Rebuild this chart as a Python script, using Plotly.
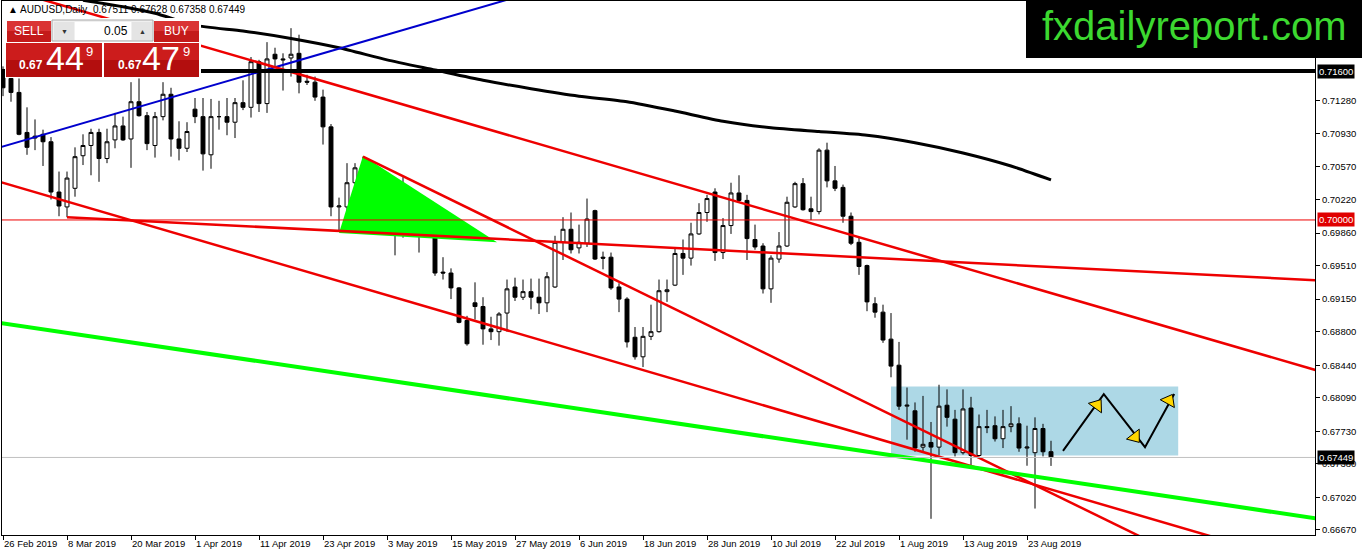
import pandas as pd
import plotly.graph_objects as go

# AUDUSD daily bars, 26 Feb 2019 .. 28 Aug 2019 (weekday bars, as MT4 shows them)
dates = pd.bdate_range('2019-02-26', '2019-08-28')

opens = [
    0.7159, 0.7152, 0.7137, 0.7094, 0.7090, 0.7092, 0.7084, 0.7030, 0.7014, 0.7034,
    0.7069, 0.7080, 0.7094, 0.7066, 0.7086, 0.7101, 0.7087, 0.7127, 0.7112, 0.7080,
    0.7111, 0.7135, 0.7087, 0.7077, 0.7119, 0.7111, 0.7070, 0.7111, 0.7111, 0.7105,
    0.7126, 0.7121, 0.7170, 0.7125, 0.7178, 0.7173, 0.7174, 0.7179, 0.7149, 0.7148,
    0.7132, 0.7100, 0.7014, 0.7014, 0.7040, 0.7056, 0.7048, 0.7014, 0.7000, 0.7003,
    0.6990, 0.7012, 0.6987, 0.6987, 0.6994, 0.6944, 0.6943, 0.6927, 0.6892, 0.6911,
    0.6907, 0.6883, 0.6880, 0.6900, 0.6928, 0.6917, 0.6923, 0.6917, 0.6911, 0.6928,
    0.6976, 0.6990, 0.6970, 0.6975, 0.7010, 0.6960, 0.6960, 0.6928, 0.6915, 0.6874,
    0.6853, 0.6875, 0.6880, 0.6923, 0.6930, 0.6964, 0.6959, 0.6985, 0.7008, 0.7030,
    0.6965, 0.6994, 0.7029, 0.7021, 0.6979, 0.6972, 0.6926, 0.6958, 0.6972, 0.7014,
    0.7039, 0.7012, 0.7009, 0.7075, 0.7042, 0.7035, 0.7004, 0.6976, 0.6951, 0.6910,
    0.6901, 0.6872, 0.6844, 0.6800, 0.6795, 0.6756, 0.6761, 0.6756, 0.6801, 0.6786,
    0.6750, 0.6798, 0.6747, 0.6778, 0.6779, 0.6765, 0.6778, 0.6781, 0.6755, 0.6750,
    0.6776, 0.67511,
]
highs = [
    0.7165, 0.7157, 0.7152, 0.7121, 0.7108, 0.7097, 0.7089, 0.7052, 0.7052, 0.7078,
    0.7092, 0.7098, 0.7098, 0.7098, 0.7115, 0.7111, 0.7148, 0.7152, 0.7116, 0.7116,
    0.7148, 0.7142, 0.7106, 0.7105, 0.7131, 0.7131, 0.7130, 0.7128, 0.7131, 0.7131,
    0.7150, 0.7175, 0.7172, 0.7191, 0.7185, 0.7179, 0.7206, 0.7199, 0.7156, 0.7154,
    0.7140, 0.7103, 0.7024, 0.7061, 0.7061, 0.7068, 0.7056, 0.7029, 0.7025, 0.7009,
    0.7046, 0.7027, 0.6998, 0.7019, 0.7003, 0.6960, 0.6948, 0.6928, 0.6897, 0.6933,
    0.6917, 0.6896, 0.6901, 0.6936, 0.6938, 0.6936, 0.6937, 0.6937, 0.6944, 0.6983,
    0.7003, 0.7008, 0.6995, 0.7023, 0.7011, 0.6966, 0.6965, 0.6932, 0.6917, 0.6885,
    0.6885, 0.6909, 0.6936, 0.6936, 0.6970, 0.6979, 0.6997, 0.7018, 0.7027, 0.7034,
    0.7002, 0.7040, 0.7048, 0.7027, 0.6995, 0.6975, 0.6962, 0.6987, 0.7025, 0.7041,
    0.7045, 0.7025, 0.7077, 0.7083, 0.7058, 0.7038, 0.7008, 0.6981, 0.6952, 0.6917,
    0.6909, 0.6900, 0.6869, 0.6820, 0.6804, 0.6811, 0.6783, 0.6823, 0.6818, 0.6796,
    0.6818, 0.6810, 0.6791, 0.6796, 0.6789, 0.6796, 0.6800, 0.6788, 0.6779, 0.6788,
    0.6781, 0.67628,
]
lows = [
    0.7133, 0.7127, 0.7091, 0.7070, 0.7075, 0.7058, 0.7022, 0.7004, 0.7003, 0.7025,
    0.7059, 0.7048, 0.7041, 0.7061, 0.7077, 0.7085, 0.7056, 0.7111, 0.7075, 0.7067,
    0.7107, 0.7068, 0.7064, 0.7073, 0.7104, 0.7053, 0.7055, 0.7097, 0.7091, 0.7088,
    0.7118, 0.7110, 0.7116, 0.7115, 0.7164, 0.7139, 0.7154, 0.7136, 0.7145, 0.7128,
    0.7081, 0.7004, 0.6989, 0.7008, 0.7038, 0.7030, 0.7008, 0.6996, 0.6995, 0.6962,
    0.6981, 0.6986, 0.6965, 0.6986, 0.6940, 0.6936, 0.6915, 0.6889, 0.6865, 0.6893,
    0.6866, 0.6871, 0.6865, 0.6880, 0.6913, 0.6914, 0.6904, 0.6899, 0.6901, 0.6927,
    0.6957, 0.6964, 0.6964, 0.6971, 0.6957, 0.6947, 0.6925, 0.6901, 0.6863, 0.6850,
    0.6842, 0.6871, 0.6879, 0.6912, 0.6929, 0.6941, 0.6951, 0.6984, 0.6998, 0.6956,
    0.6958, 0.6985, 0.7019, 0.6957, 0.6968, 0.6921, 0.6911, 0.6954, 0.6971, 0.7013,
    0.7010, 0.7000, 0.7006, 0.7035, 0.7031, 0.6997, 0.6973, 0.6941, 0.6902, 0.6895,
    0.6868, 0.6831, 0.6796, 0.6764, 0.6751, 0.6750, 0.6679, 0.6747, 0.6778, 0.6746,
    0.6748, 0.6736, 0.6746, 0.6771, 0.6762, 0.6755, 0.6772, 0.6751, 0.6736, 0.6690,
    0.6746, 0.67358,
]
closes = [
    0.7142, 0.7137, 0.7092, 0.7078, 0.7088, 0.7084, 0.7030, 0.7015, 0.7045, 0.7068,
    0.7080, 0.7094, 0.7066, 0.7084, 0.7101, 0.7086, 0.7127, 0.7112, 0.7082, 0.7111,
    0.7135, 0.7087, 0.7077, 0.7095, 0.7111, 0.7071, 0.7111, 0.7111, 0.7105, 0.7126,
    0.7121, 0.7170, 0.7125, 0.7173, 0.7173, 0.7172, 0.7178, 0.7148, 0.7148, 0.7132,
    0.7100, 0.7014, 0.7015, 0.7040, 0.7056, 0.7047, 0.7014, 0.7000, 0.7024, 0.6989,
    0.7012, 0.6998, 0.6988, 0.7000, 0.6943, 0.6943, 0.6927, 0.6890, 0.6867, 0.6907,
    0.6883, 0.6880, 0.6899, 0.6926, 0.6917, 0.6923, 0.6917, 0.6911, 0.6939, 0.6976,
    0.6990, 0.6968, 0.6976, 0.7001, 0.6958, 0.6959, 0.6927, 0.6915, 0.6869, 0.6853,
    0.6875, 0.6880, 0.6924, 0.6925, 0.6964, 0.6959, 0.6985, 0.7008, 0.7023, 0.6965,
    0.6994, 0.7029, 0.7021, 0.6980, 0.6971, 0.6926, 0.6959, 0.6972, 0.7019, 0.7039,
    0.7011, 0.7009, 0.7075, 0.7042, 0.7034, 0.7004, 0.6975, 0.6950, 0.6912, 0.6901,
    0.6871, 0.6843, 0.6800, 0.6801, 0.6755, 0.6759, 0.6756, 0.6800, 0.6788, 0.6750,
    0.6797, 0.6747, 0.6778, 0.6777, 0.6765, 0.6778, 0.6781, 0.6755, 0.6756, 0.6776,
    0.6751, 0.67449,
]

# moving average (black curve), read at some bars
ma_bar = [10, 15, 19, 24, 30, 36, 42, 48, 54, 60, 66, 72, 78, 84, 90, 96, 102, 108, 114, 120, 126, 131]
ma_val = [0.7236, 0.7229, 0.7222, 0.7209, 0.7203, 0.7195, 0.7185, 0.7172, 0.7161, 0.7150, 0.7141,
          0.7133, 0.7127, 0.7117, 0.7106, 0.7099, 0.7095, 0.7091, 0.7083, 0.7072, 0.7058, 0.7043]

# price axis labels
price_ticks = [0.71280, 0.70930, 0.70570, 0.70220, 0.69860, 0.69510, 0.69150,
               0.68800, 0.68440, 0.68090, 0.67730, 0.67380, 0.67020, 0.66670]
date_labels = ['26 Feb 2019', '8 Mar 2019', '20 Mar 2019', '1 Apr 2019', '11 Apr 2019',
               '23 Apr 2019', '3 May 2019', '15 May 2019', '27 May 2019', '6 Jun 2019',
               '18 Jun 2019', '28 Jun 2019', '10 Jul 2019', '22 Jul 2019', '1 Aug 2019',
               '13 Aug 2019', '23 Aug 2019']

resistance = 0.71600
round_level = 0.70000
bid = 0.67449

# drawn objects, anchored as (bar, price)
blue_line = [(0, 0.7079), (60, 0.7229)]
red_upper = [(30, 0.7174), (130, 0.6924)]
red_lower = [(0, 0.7040), (130, 0.6713)]
red_steep = [(45, 0.7068), (130, 0.6711)]
red_flat = [(8, 0.7003), (130, 0.6950)]
green_line = [(0, 0.6889), (130, 0.6723)]

tri_bar = [42, 45, 61.75]
tri_px = [0.6986, 0.7069, 0.6976]

box_bar = [111, 146.9]
box_px = [0.6747, 0.6821]

path_bar = [132.5, 137.6, 142.75, 146.4]
path_px = [0.6752, 0.6813, 0.6756, 0.6813]
head_bar = [136.75, 141.5, 145.75]
head_px = [0.6801, 0.6767, 0.6806]

X0, X1 = -0.125, 164.0
Y0, Y1 = 0.66616, 0.72352
FONT = 'Liberation Sans, Arial, sans-serif'

bars = list(range(len(dates)))
label_pos = [dates.get_loc(pd.Timestamp(d)) for d in date_labels]


def extend(anchors, both=True):
    (xa, ya), (xb, yb) = anchors
    k = (yb - ya) / (xb - xa)
    left = X0 - 1 if both else xa
    right = X1 + 1
    return [left, right], [ya + k * (left - xa), ya + k * (right - xa)]


# pixel helpers for the widgets drawn over the chart
def px(x):
    return (x - 2) / 1313


def py(y):
    return 1 - (y - 1) / 534


fig = go.Figure()

fig.add_trace(go.Scatter(
    x=tri_bar + [tri_bar[0]], y=tri_px + [tri_px[0]],
    fill='toself', fillcolor='#00FF00', mode='lines', line=dict(width=0),
    hoverinfo='skip'))

fig.add_trace(go.Candlestick(
    x=bars, open=opens, high=highs, low=lows, close=closes,
    increasing=dict(line=dict(color='black', width=1), fillcolor='white'),
    decreasing=dict(line=dict(color='black', width=1), fillcolor='black'),
    whiskerwidth=0, hoverinfo='skip'))

fig.add_trace(go.Scatter(x=ma_bar, y=ma_val, mode='lines',
                         line=dict(color='black', width=3, shape='spline', smoothing=0.6),
                         hoverinfo='skip'))

for anchors, color, width, both in [
    (blue_line, '#0000CD', 2, True),
    (red_upper, '#EE0000', 2.5, True),
    (red_lower, '#EE0000', 2.5, True),
    (red_steep, '#EE0000', 2.5, False),
    (red_flat, '#EE0000', 2.5, False),
    (green_line, '#00FF00', 4, True),
]:
    lx, ly = extend(anchors, both)
    fig.add_trace(go.Scatter(x=lx, y=ly, mode='lines', line=dict(color=color, width=width),
                             hoverinfo='skip'))

fig.add_trace(go.Scatter(x=path_bar, y=path_px, mode='lines',
                         line=dict(color='black', width=2), hoverinfo='skip'))
fig.add_trace(go.Scatter(
    x=head_bar, y=head_px, mode='markers', hoverinfo='skip',
    marker=dict(symbol='triangle-up', size=14, color='#FFD700',
                angle=[36, 142, 29], line=dict(color='black', width=1))))

shapes = [
    dict(type='rect', xref='x', yref='y', x0=box_bar[0], x1=box_bar[1],
         y0=box_px[0], y1=box_px[1], fillcolor='#ADD8E6', line=dict(width=0), layer='below'),
    dict(type='line', xref='paper', yref='y', x0=0, x1=1, y0=resistance, y1=resistance,
         line=dict(color='black', width=4)),
    dict(type='line', xref='paper', yref='y', x0=0, x1=1, y0=round_level, y1=round_level,
         line=dict(color='#EE0000', width=1)),
    dict(type='line', xref='paper', yref='y', x0=0, x1=1, y0=bid, y1=bid,
         line=dict(color='#C0C0C0', width=1)),
]


def rect(x0, y0, x1, y1, fill, line=None):
    shapes.append(dict(type='rect', xref='paper', yref='paper',
                       x0=px(x0), x1=px(x1), y0=py(y1), y1=py(y0), fillcolor=fill,
                       line=dict(color=line or fill, width=1 if line else 0)))


# one-click trading panel
rect(5, 18, 201, 78, 'white')
rect(7, 21, 51, 31, '#DA3434')
rect(7, 31, 51, 42, '#C41A1A')
rect(154, 21, 199, 31, '#DA3434')
rect(154, 31, 199, 42, '#C41A1A')
rect(52, 20, 153, 41, '#F0F0F0', '#A8A8A8')
rect(54, 22, 74, 40, '#E4E4E4')
rect(75, 22, 131, 40, 'white')
rect(132, 22, 152, 40, '#E4E4E4')
for x0, x1 in [(6, 102), (104, 199)]:
    rect(x0, 43, x1, 60, '#CC1C1C')
    rect(x0, 60, x1, 77, '#B30E0E')

# logo
rect(1026, 0, 1362, 58, 'black')

annotations = [
    dict(text='▲ AUDUSD,Daily  0.67511 0.67628 0.67358 0.67449', x=px(6), y=py(9),
         xanchor='left', font=dict(size=10, color='black', family=FONT)),
    dict(text='SELL', x=px(29), y=py(31), font=dict(size=12, color='white', family=FONT)),
    dict(text='BUY', x=px(176), y=py(31), font=dict(size=12, color='white', family=FONT)),
    dict(text='0.05', x=px(130), y=py(31), xanchor='right',
         font=dict(size=12, color='black', family=FONT)),
    dict(text='▼', x=px(64), y=py(31), font=dict(size=7, color='#333333', family=FONT)),
    dict(text='▲', x=px(142), y=py(31), font=dict(size=7, color='#333333', family=FONT)),
    dict(text='<b>0.67</b>', x=px(31), y=py(65), font=dict(size=12, color='white', family=FONT)),
    dict(text='44', x=px(65), y=py(58), font=dict(size=34, color='white', family=FONT)),
    dict(text='9', x=px(89), y=py(51), font=dict(size=13, color='white', family=FONT)),
    dict(text='<b>0.67</b>', x=px(130), y=py(65), font=dict(size=12, color='white', family=FONT)),
    dict(text='47', x=px(161), y=py(58), font=dict(size=34, color='white', family=FONT)),
    dict(text='9', x=px(186), y=py(51), font=dict(size=13, color='white', family=FONT)),
    dict(text='fxdailyreport.com', x=px(1194), y=py(26),
         font=dict(size=40, color='#3CD830', family=FONT)),
]
for level, bg in [(resistance, 'black'), (round_level, '#E00000'), (bid, 'black')]:
    annotations.append(dict(
        text=f'{level:.5f}', xref='paper', yref='y', x=px(1317), y=level,
        xanchor='left', bgcolor=bg, borderpad=1,
        font=dict(size=9.5, color='white', family=FONT)))
for a in annotations:
    a.setdefault('xref', 'paper')
    a.setdefault('yref', 'paper')
    a.setdefault('xanchor', 'center')
    a.setdefault('yanchor', 'middle')
    a.setdefault('showarrow', False)

fig.update_layout(
    width=1362, height=554,
    margin=dict(l=2, r=47, t=1, b=19, autoexpand=False),
    paper_bgcolor='white', plot_bgcolor='white',
    showlegend=False,
    shapes=shapes,
    annotations=annotations,
    xaxis=dict(range=[X0, X1], tickvals=label_pos, ticktext=date_labels,
               ticks='outside', ticklen=4, tickcolor='black', tickangle=0,
               ticklabelposition='outside right', automargin=False,
               tickfont=dict(size=9.5, color='black', family=FONT),
               showline=True, linecolor='black', linewidth=1, mirror=True,
               showgrid=False, zeroline=False, rangeslider=dict(visible=False),
               fixedrange=True),
    yaxis=dict(side='right', range=[Y0, Y1], tickvals=price_ticks,
               ticktext=[f'{v:.5f}' for v in price_ticks], automargin=False,
               ticks='outside', ticklen=4, tickcolor='black',
               tickfont=dict(size=9.5, color='black', family=FONT),
               showline=True, linecolor='black', linewidth=1, mirror=True,
               showgrid=False, zeroline=False, fixedrange=True),
)

# the page's default body margin would push the 1362x554 figure off the window
fig.write_html('out.html', config={'displayModeBar': False},
               post_script="document.body.style.margin='0px';")
